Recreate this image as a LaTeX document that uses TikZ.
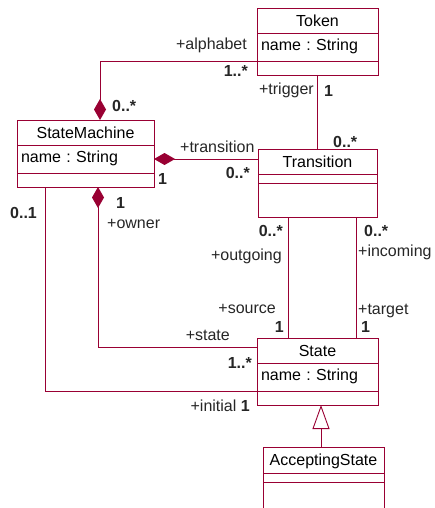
\documentclass[tikz,border=0pt]{standalone}
\usepackage{fontspec}
\setmainfont{Liberation Sans}
\usepackage{tikz}
\usetikzlibrary{arrows.meta,positioning,calc}
\usepackage{xcolor}
\definecolor{umlred}{RGB}{153,0,51}
\newcommand{\umlfont}{\fontsize{16}{19}\selectfont}
\frenchspacing
\tikzset{
  hdr/.style    = {draw=umlred, line width=0.9pt, rectangle, inner sep=0pt, outer sep=0pt,
                   minimum width=#1, minimum height=25pt, text height=11.5pt, text depth=0pt,
                   font=\umlfont},
  attr/.style   = {draw=umlred, line width=0.9pt, rectangle, inner xsep=4pt, inner ysep=0pt,
                   outer sep=0pt, text width=#1, align=left, text height=11.5pt, text depth=5pt,
                   font=\umlfont},
  ops/.style    = {draw=umlred, line width=0.9pt, rectangle, inner sep=0pt, outer sep=0pt,
                   minimum width=#1},
  assoc/.style  = {draw=umlred, line width=0.9pt},
  comp/.style   = {assoc, {Diamond[length=21pt,width=12pt,fill=umlred]}-},
  gen/.style    = {assoc, -{Triangle[open,length=24pt,width=17pt,fill=white]}},
  lbl/.style    = {font=\umlfont, inner sep=0pt, text=black!85},
  mult/.style   = {font=\umlfont\bfseries, inner sep=0pt, text=black!85},
}

\begin{document}
\begin{tikzpicture}[x=1pt, y=-1pt]
\useasboundingbox (0,0) rectangle (434,508);
% ---- classes ----
\node[hdr=121pt, anchor=north west] (token) at (257,8) {Token};
\node[attr=113pt, minimum height=28pt, below=0pt of token] (token-a) {name : String};
\node[ops=121pt, minimum height=14pt, below=0pt of token-a] (token-o) {};

\node[hdr=137pt, anchor=north west] (sm) at (17,120) {StateMachine};
\node[attr=129pt, minimum height=28pt, below=0pt of sm] (sm-a) {name : String};
\node[ops=137pt, minimum height=14pt, below=0pt of sm-a] (sm-o) {};

\node[hdr=119pt, anchor=north west] (trans) at (258,149) {Transition};
\node[ops=119pt, minimum height=9pt, below=0pt of trans] (trans-a) {};
\node[ops=119pt, minimum height=34pt, below=0pt of trans-a] (trans-o) {};

\node[hdr=121pt, anchor=north west] (state) at (257,338) {State};
\node[attr=113pt, minimum height=28pt, below=0pt of state] (state-a) {name : String};
\node[ops=121pt, minimum height=14pt, below=0pt of state-a] (state-o) {};

\node[hdr=121pt, minimum height=26pt, anchor=north west] (acc) at (263,447) {AcceptingState};
\node[ops=121pt, minimum height=9pt, below=0pt of acc] (acc-a) {};
\node[ops=121pt, minimum height=40pt, below=0pt of acc-a] (acc-o) {};

% ---- connectors ----
\coordinate (alph) at ($(sm.north west)+(83,0)$);
\draw[comp] (alph) |- (token-a.south west);
\draw[assoc] (token-o.south) -- (trans.north);
\draw[comp] (sm-a.east) -- (sm-a.east -| trans.west);
\coordinate (own) at ($(sm-o.south west)+(81,0)$);
\coordinate (stl) at ($(state.north west)+(0,9)$);
\draw[comp] (own) |- (stl);
\coordinate (ini) at ($(sm-o.south west)+(28,0)$);
\draw[assoc] (ini) |- (state-a.south west);
\coordinate (outg) at ($(trans-o.south west)+(30,0)$);
\draw[assoc] (outg) -- (outg |- state.north);
\coordinate (inc) at ($(trans-o.south west)+(98,0)$);
\draw[assoc] (inc) -- (inc |- state.north);
\coordinate (gn) at ($(acc.north west)+(58,0)$);
\draw[gen] (gn) -- (gn |- state-o.south);

% ---- role names and multiplicities ----
\node[lbl, anchor=base east] (l-alph) at (247,50) {+alphabet};
\node[mult, anchor=base east] (m-alph1) at (248,77) {1..*};
\node[mult, anchor=base west] (m-alph2) at (112,112) {0..*};
\node[lbl, anchor=base east] (l-trig) at (314,95) {+trigger};
\node[mult, anchor=base west] (m-trig1) at (324,96) {1};
\node[mult, anchor=base west] (m-trig2) at (333,147) {0..*};
\node[lbl, anchor=base west] (l-tran) at (180,152) {+transition};
\node[mult, anchor=base east] (m-tran1) at (250,178) {0..*};
\node[mult, anchor=base west] (m-tran2) at (158,184) {1};
\node[mult, anchor=base west] (m-ini1) at (10,218) {0..1};
\node[mult, anchor=base west] (m-own1) at (116,208) {1};
\node[lbl, anchor=base west] (l-own) at (107,228) {+owner};
\node[mult, anchor=base east] (m-out1) at (283,236) {0..*};
\node[lbl, anchor=base east] (l-out) at (282,260) {+outgoing};
\node[lbl, anchor=base east] (l-src) at (276,313) {+source};
\node[mult, anchor=base east] (m-src) at (284,332) {1};
\node[mult, anchor=base west] (m-inc1) at (364,236) {0..*};
\node[lbl, anchor=base west] (l-inc) at (358,256) {+incoming};
\node[lbl, anchor=base west] (l-tgt) at (358,314) {+target};
\node[mult, anchor=base west] (m-tgt) at (361,332) {1};
\node[lbl, anchor=base east] (l-state) at (230,340) {+state};
\node[mult, anchor=base east] (m-state) at (252,368) {1..*};
\node[lbl, anchor=base east] (l-ini) at (250,411) {+initial \textbf{1}};
\end{tikzpicture}
\end{document}
